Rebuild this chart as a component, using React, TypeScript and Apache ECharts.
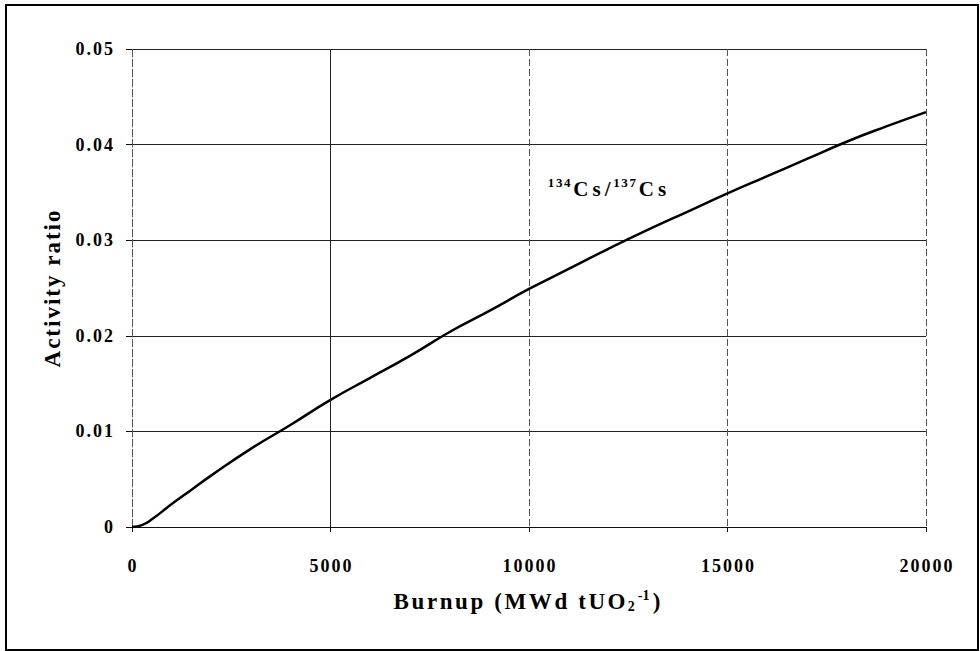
import React, { useEffect, useRef } from "react";
import * as echarts from "echarts";

const burnup = [0, 250, 500, 1000, 1500, 2000, 3000, 4000, 5000, 6000, 7000, 8000, 9000, 10000, 11000, 12000, 13000, 14000, 15000, 16000, 17000, 18000, 19000, 20000];
const ratio = [0, 0.0002, 0.0008, 0.0024, 0.0039, 0.0054, 0.0082, 0.0107, 0.0133, 0.0156, 0.0179, 0.0204, 0.0226, 0.0249, 0.027, 0.0291, 0.0311, 0.033, 0.0349, 0.0367, 0.0385, 0.0403, 0.0419, 0.0434];
const xTicks = [0, 5000, 10000, 15000, 20000];
const yTicks = [0, 0.01, 0.02, 0.03, 0.04, 0.05];

const FONT = "'Liberation Serif', 'Times New Roman', serif";

// emulate letter spacing with rich-text tokens (one per character)
const spaced = (s: string, style: string) =>
  s
    .split("")
    .map((c) => `{${style}|${c}}`)
    .join("");

export default function App() {
  const ref = useRef<HTMLDivElement>(null);
  useEffect(() => {
    if (!ref.current) return;
    const chart = echarts.init(ref.current, null, { renderer: "svg" });
    const tickRich = {
      d: {
        fontFamily: FONT,
        fontWeight: "bold",
        fontSize: 18,
        color: "#000",
        padding: [0, 1, 0, 1],
      },
    };
    chart.setOption({
      animation: false,
      backgroundColor: "#fff",
      grid: { left: 132, right: 54, top: 49, bottom: 124 },
      xAxis: {
        type: "value",
        min: xTicks[0],
        max: xTicks[xTicks.length - 1],
        interval: 5000,
        axisLine: { show: true, lineStyle: { color: "#111", width: 1 } },
        axisTick: { show: true, length: 5, lineStyle: { color: "#111" } },
        axisLabel: {
          margin: 30,
          color: "#000",
          fontFamily: FONT,
          fontWeight: "bold",
          fontSize: 18,
          formatter: (v: number) => spaced(String(v), "d"),
          rich: tickRich,
        },
        splitLine: { show: true, lineStyle: { color: "#555", width: 1, type: [7, 3] } },
      },
      yAxis: {
        type: "value",
        min: yTicks[0],
        max: yTicks[yTicks.length - 1],
        interval: 0.01,
        axisLine: { show: true, lineStyle: { color: "#555", width: 1, type: [7, 3] } },
        axisTick: { show: true, length: 6, lineStyle: { color: "#111" } },
        axisLabel: {
          margin: 18,
          color: "#000",
          fontFamily: FONT,
          fontWeight: "bold",
          fontSize: 18,
          formatter: (v: number) => spaced(v === 0 ? "0" : v.toFixed(2), "d"),
          rich: tickRich,
        },
        splitLine: { show: true, lineStyle: { color: "#222", width: 1 } },
      },
      series: [
        {
          type: "line",
          data: burnup.map((b, i) => [b, ratio[i]]),
          showSymbol: false,
          smooth: true,
          lineStyle: { color: "#000", width: 2.5 },
          silent: true,
          markLine: {
            silent: true,
            symbol: "none",
            label: { show: false },
            lineStyle: { color: "#222", width: 1, type: "solid" },
            data: [{ xAxis: 5000 }],
          },
        },
      ],
      graphic: [
        {
          type: "rect",
          shape: { x: 6, y: 5, width: 972, height: 645 },
          style: { fill: "none", stroke: "#000", lineWidth: 2 },
          silent: true,
        },
        {
          type: "text",
          x: 52,
          y: 289,
          rotation: Math.PI / 2,
          style: {
            text: spaced("Activity ratio", "m"),
            align: "center",
            verticalAlign: "middle",
            fill: "#000",
            rich: {
              m: { font: `bold 23px ${FONT}`, fill: "#000", padding: [0, 1, 0, 1] },
            },
          },
        },
        {
          type: "text",
          x: 527,
          y: 601,
          style: {
            text: spaced("Burnup (MWd tUO", "m") + "{sub|2}{sup|-1}{m|)}",
            align: "center",
            verticalAlign: "middle",
            fill: "#000",
            rich: {
              m: { font: `bold 23px ${FONT}`, fill: "#000", lineHeight: 30, verticalAlign: "middle", padding: [0, 1.3, 0, 1.3] },
              sub: { font: `bold 14px ${FONT}`, fill: "#000", lineHeight: 30, verticalAlign: "bottom", padding: [0, 1, 3, 1] },
              sup: { font: `bold 14px ${FONT}`, fill: "#000", lineHeight: 30, verticalAlign: "top", padding: [2, 2, 0, 2] },
            },
          },
        },
        {
          type: "text",
          x: 547,
          y: 189,
          style: {
            text: spaced("134", "sup") + spaced("Cs/", "m") + spaced("137", "sup") + spaced("Cs", "m"),
            align: "left",
            verticalAlign: "middle",
            fill: "#000",
            rich: {
              m: { font: `bold 21px ${FONT}`, fill: "#000", lineHeight: 28, verticalAlign: "middle", padding: [0, 2, 0, 2] },
              sup: { font: `bold 13px ${FONT}`, fill: "#000", lineHeight: 28, verticalAlign: "top", padding: [1, 0.8, 0, 0.8] },
            },
          },
        },
      ],
    });
    return () => chart.dispose();
  }, []);
  return (
    <div
      ref={ref}
      style={{ position: "absolute", left: 0, top: 0, width: 980, height: 651 }}
    />
  );
}
